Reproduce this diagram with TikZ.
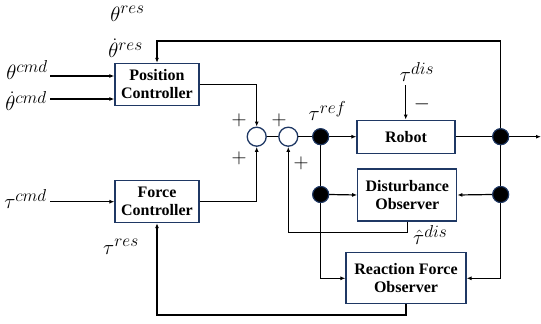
\documentclass[tikz,border=0pt]{standalone}
\usepackage{fontspec}
\setmainfont{Liberation Serif}
\usetikzlibrary{arrows.meta,calc}
\DeclareMathSizes{21}{21}{16}{12}
\definecolor{navy}{HTML}{1F3864}
\begin{document}
\begin{tikzpicture}[x=1pt,y=-1pt,
  blk/.style={draw=navy,line width=1.3pt,fill=white,align=center,font=\fontsize{16}{18}\selectfont\bfseries,inner sep=0pt},
  sumc/.style={circle,draw=navy,line width=1.3pt,fill=white,minimum size=19pt,inner sep=0pt},
  junc/.style={circle,draw=navy,line width=1pt,fill=black,minimum size=16pt,inner sep=0pt},
  lbl/.style={inner sep=0pt,font=\fontsize{21}{24}\selectfont},
  sgn/.style={inner sep=0pt,font=\fontsize{21}{22}\selectfont},
  wire/.style={line width=1.2pt,black},
  arr/.style={wire,-{Latex[length=5pt,width=4pt]}}]
\useasboundingbox (0,0) rectangle (541,324);
% blocks
\node[blk,minimum width=84pt,minimum height=42pt] (PC) at (157,84.5) {Position\\Controller};
\node[blk,minimum width=84pt,minimum height=42pt] (FC) at (157,201.5) {Force\\Controller};
\node[blk,minimum width=98pt,minimum height=33pt] (RB) at (406,136.7) {Robot};
\node[blk,minimum width=99pt,minimum height=52pt] (DO) at (407.3,195) {Disturbance\\Observer};
\node[blk,minimum width=120pt,minimum height=51pt] (RFO) at (406,278.3) {Reaction Force\\Observer};
% sums and junctions
\node[sumc] (S1) at (256.7,136.7) {};
\node[sumc] (S2) at (288.3,136.7) {};
\node[junc] (J1) at (320.7,136.7) {};
\node[junc] (J2) at (500.7,136.7) {};
\node[junc] (J3) at (320.7,194.5) {};
\node[junc] (J4) at (500.7,194.5) {};
% coordinates
\coordinate (c1) at (50,76);
\coordinate (c2) at (50,99);
\coordinate (c3) at (50,201.7);
\coordinate (out) at (541,136.7);
\coordinate (fbtop) at (157,41);
\coordinate (rb) at (157,315);
\coordinate (td) at (405.7,85);
% labels
\node[lbl,anchor=north] (Lthres) at (127.5,6) {$\theta^{res}$};
\node[lbl,anchor=east] (Ldthres) at (143,48) {$\dot\theta^{res}$};
\node[lbl,anchor=east] (Lthcmd) at (48,70) {$\theta^{cmd}$};
\node[lbl,anchor=east] (Ldthcmd) at (47,101) {$\dot\theta^{cmd}$};
\node[lbl,anchor=east] (Ltcmd) at (47,199) {$\tau^{cmd}$};
\node[lbl] (Ltres) at (121,247) {$\tau^{res}$};
\node[lbl] (Ltref) at (327.5,111) {$\tau^{ref}$};
\node[lbl] (Ltdis) at (417,72) {$\tau^{dis}$};
\node[lbl,anchor=west] (Lthat) at (413,235) {$\hat\tau^{dis}$};
\node[sgn] (p1) at (239,120) {$+$};
\node[sgn] (p2) at (239,158) {$+$};
\node[sgn] (p3) at (279,120) {$+$};
\node[sgn] (p4) at (301,163) {$+$};
\node[sgn] (m1) at (422,104) {$-$};
% wires
\draw[arr] (c1) -- (c1 -| PC.west);
\draw[arr] (c2) -- (c2 -| PC.west);
\draw[arr] (c3) -- (c3 -| FC.west);
\draw[arr] (PC.east) -| (S1.north);
\draw[arr] (FC.east) -| (S1.south);
\draw[wire] (S1.east) -- (S2.west);
\draw[wire] (S2.east) -- (J1.west);
\draw[arr] (J1.east) -- (RB.west);
\draw[wire] (RB.east) -- (J2.west);
\draw[arr] (J2.east) -- (out);
\draw[arr] (J2.north) |- (fbtop) -- (PC.north);
\draw[wire] (J2.south) -- (J4.north);
\draw[arr] (J4.west) -- (DO.east);
\draw[arr] (J4.south) |- (RFO.east);
\draw[wire] (J1.south) -- (J3.north);
\draw[arr] (J3.east) -- (DO.west);
\draw[arr] (J3.south) |- (RFO.west);
\draw[arr] (DO.south) -- ++(0,10.7) -| (S2.south);
\draw[arr] (RFO.south) |- (rb) -- (FC.south);
\draw[arr] (td) -- (td |- RB.north);
% redraw junctions on top
\node[junc] at (J1) {};
\node[junc] at (J2) {};
\node[junc] at (J3) {};
\node[junc] at (J4) {};
\end{tikzpicture}
\end{document}
